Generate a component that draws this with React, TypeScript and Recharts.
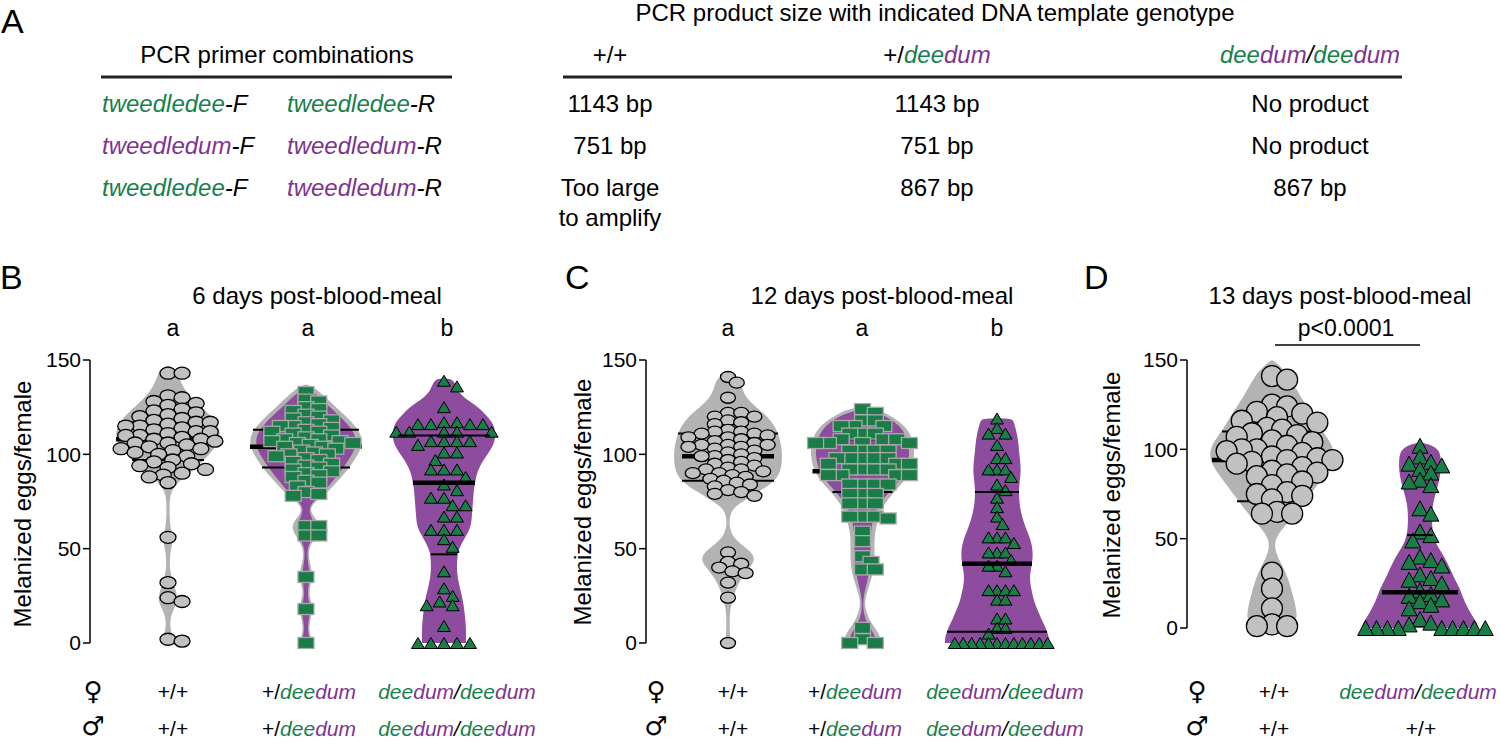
import React from 'react'
import { ScatterChart, Scatter, XAxis, YAxis } from 'recharts'

const FONT = '"Liberation Sans", Arial, Helvetica, sans-serif'
const GRAY = '#b3b3b3'
const VIOLET = '#8e4c9e'
const GREEN = '#1a7c46'
const T_GREEN = '#17814b'
const T_VIOLET = '#7f3390'

const yTicks = [0, 50, 100, 150]

// B: 6 days post-blood-meal, melanized eggs per female
const b6Wild = [143, 143, 131, 130, 128, 127, 126, 124, 123, 122, 121, 120, 119, 118, 117, 117, 116, 115, 115, 114, 113, 112, 112, 111, 110, 110, 109, 108, 108, 107, 106, 106, 105, 104, 103, 103, 102, 101, 100, 99, 97, 96, 95, 94, 93, 92, 90, 89, 88, 85, 56, 32, 24, 22, 2, 1]
const b6Het = [133, 129, 128, 125, 124, 123, 121, 120, 119, 118, 117, 116, 115, 115, 114, 113, 112, 112, 111, 110, 109, 108, 108, 107, 107, 106, 106, 105, 104, 104, 103, 102, 101, 100, 100, 99, 98, 97, 96, 95, 94, 93, 92, 91, 90, 89, 88, 86, 85, 83, 80, 79, 78, 62, 62, 57, 57, 35, 18, 0]
const b6Hom = [139, 136, 125, 117, 117, 116, 116, 116, 116, 112, 112, 112, 112, 112, 107, 107, 107, 107, 105, 101, 101, 97, 92, 92, 92, 88, 84, 81, 77, 77, 73, 73, 67, 67, 60, 60, 60, 55, 51, 38, 29, 25, 22, 20, 20, 9, 0, 0, 0, 0, 0]
// violin outlines: [value, half width]
const b6WildViolin = [[0, 4], [3, 5], [6, 3], [10, 2], [15, 3], [20, 8], [24, 10], [29, 7], [34, 4], [40, 1.5], [47, 2], [52, 4], [56, 5], [60, 3], [66, 1.5], [75, 1.5], [80, 3], [84, 8], [88, 16], [93, 28], [98, 38], [104, 48], [110, 53], [116, 50], [122, 40], [128, 27], [134, 17], [139, 12], [143, 10], [146, 5], [147, 0]]
const b6HetViolin = [[0, 7], [4, 4], [9, 3], [14, 5], [18, 7], [22, 5], [28, 2.5], [34, 7], [38, 6], [44, 3], [50, 2.5], [55, 8], [60, 14], [64, 13], [68, 6], [72, 4], [76, 12], [80, 22], [86, 32], [92, 42], [98, 50], [104, 56], [110, 56], [116, 48], [122, 36], [128, 24], [133, 14], [136, 6], [137, 0]]
const b6HetInner = [[0, 5], [5, 2], [10, 2], [16, 4], [20, 4], [26, 1], [34, 4], [40, 3], [46, 1], [52, 2], [58, 9], [63, 9], [68, 4], [72, 3], [76, 9], [80, 18], [86, 27], [92, 36], [98, 44], [104, 50], [110, 50], [116, 42], [122, 30], [128, 18], [133, 8], [135, 0]]
const b6HomViolin = [[0, 22], [4, 22], [9, 22], [14, 21], [19, 20], [25, 18], [31, 15], [37, 13], [43, 13], [49, 14], [55, 20], [61, 27], [68, 28], [75, 29], [82, 30], [88, 32], [93, 35], [99, 42], [105, 50], [111, 52], [117, 49], [122, 40], [126, 32], [130, 20], [134, 13], [140, 10], [140, 0]]
// quartile, median, quartile and their half widths
const b6WildStats = [117, 108, 97]
const b6WildStatW = [49, 52, 36]
const b6HetStats = [113, 104, 93]
const b6HetStatW = [53, 56, 44]
const b6HomStats = [110, 85, 47]
const b6HomStatW = [46, 31, 13]

// C: 12 days post-blood-meal
const c12Wild = [141, 138, 130, 122, 122, 120, 120, 118, 117, 116, 113, 112, 112, 111, 111, 110, 109, 109, 108, 107, 106, 105, 105, 105, 104, 104, 103, 102, 101, 100, 99, 99, 98, 97, 96, 95, 94, 93, 92, 92, 91, 90, 90, 89, 88, 87, 86, 85, 84, 83, 81, 80, 79, 78, 48, 43, 42, 40, 38, 37, 32, 24, 0]
const c12Het = [124, 122, 118, 118, 115, 115, 115, 111, 111, 111, 108, 108, 108, 106, 106, 106, 106, 102, 102, 102, 102, 98, 98, 98, 98, 98, 95, 95, 95, 92, 92, 92, 92, 89, 89, 89, 89, 84, 84, 84, 84, 79, 79, 79, 74, 74, 74, 67, 67, 67, 66, 59, 54, 46, 43, 39, 39, 8, 2, 0, 0]
const c12Hom = [119, 114, 111, 111, 105, 98, 98, 92, 92, 92, 88, 84, 81, 77, 72, 67, 63, 56, 56, 56, 53, 48, 48, 48, 44, 41, 41, 38, 28, 28, 28, 28, 23, 23, 13, 13, 8, 8, 5, 0, 0, 0, 0, 0, 0, 0, 0, 0, 0, 0, 0]
const c12WildViolin = [[0, 3], [4, 2], [10, 1.5], [18, 2], [24, 5], [30, 9], [35, 14], [40, 22], [44, 27], [48, 24], [52, 14], [56, 5], [62, 1], [68, 2], [72, 6], [76, 18], [80, 30], [85, 45], [90, 52], [96, 54], [102, 54], [108, 52], [114, 48], [120, 40], [125, 28], [130, 18], [135, 14], [139, 12], [142, 7], [143, 0]]
const c12HetViolin = [[0, 18], [3, 18], [7, 14], [11, 8], [16, 4], [21, 2], [26, 4], [31, 7], [36, 10], [42, 12], [50, 12], [58, 12], [64, 15], [70, 18], [76, 25], [82, 35], [88, 45], [94, 50], [100, 52], [106, 51], [112, 47], [117, 38], [121, 26], [124, 15], [125, 0]]
const c12HetInner = [[0, 13], [3, 13], [7, 9], [11, 4], [16, 1], [21, 0.5], [26, 1.5], [31, 4], [36, 6], [42, 8], [50, 8], [58, 8], [64, 10], [70, 13], [76, 20], [82, 30], [88, 40], [94, 45], [100, 47], [106, 46], [112, 42], [117, 33], [121, 20], [123, 8], [124, 0]]
const c12HomViolin = [[0, 52], [3, 52], [6, 50], [9, 48], [13, 44], [17, 41], [22, 37], [27, 35], [32, 33], [37, 33], [42, 35], [47, 36], [52, 35], [57, 32], [62, 28], [67, 25], [72, 23], [77, 22], [82, 22], [87, 23], [92, 24], [97, 23], [102, 22], [108, 21], [113, 19], [117, 17], [119, 15], [119, 0]]
const c12WildStats = [111, 99, 86]
const c12WildStatW = [50, 46, 46]
const c12HetStats = [108, 91, 80]
const c12HetStatW = [50, 50, 30]
const c12HomStats = [80, 42, 6]
const c12HomStatW = [22, 35, 50]

// D: 13 days post-blood-meal
const d13Wild = [141, 139, 125, 124, 121, 120, 118, 116, 115, 112, 111, 109, 108, 107, 105, 104, 102, 100, 100, 99, 98, 96, 95, 94, 94, 93, 92, 90, 88, 87, 86, 85, 82, 80, 76, 75, 74, 72, 65, 64, 64, 31, 22, 11, 2, 1, 1]
const d13Hom = [102, 96, 93, 92, 91, 89, 87, 83, 82, 80, 67, 64, 54, 52, 49, 40, 38, 37, 35, 30, 28, 27, 25, 21, 19, 18, 16, 15, 13, 11, 5, 3, 2, 0, 0, 0, 0, 0, 0, 0, 0, 0]
const d13WildViolin = [[0, 20], [3, 24], [8, 25], [14, 23], [20, 20], [26, 17], [32, 13], [38, 7], [44, 3], [49, 3], [54, 8], [59, 16], [64, 24], [70, 32], [76, 40], [82, 48], [88, 56], [94, 62], [100, 62], [106, 56], [112, 48], [118, 42], [124, 35], [130, 28], [136, 22], [141, 17], [145, 11], [148, 5], [150, 0]]
const d13HomViolin = [[0, 58], [3, 57], [7, 52], [12, 47], [17, 43], [22, 40], [27, 35], [32, 31], [37, 27], [42, 22], [47, 16], [52, 13], [58, 12], [64, 12], [70, 13], [76, 16], [82, 19], [88, 21], [94, 21], [98, 20], [101, 16], [103, 8], [104, 0]]
const d13WildStats = [110, 94, 71]
const d13WildStatW = [50, 60, 35]
const d13HomStats = [52, 20]
const d13HomStatW = [13, 38]

type Marker = { kind: 'circle' | 'square' | 'triangle'; w: number; h: number; kx: number; ky: number }
type Group = {
  center: number
  values: number[]
  marker: Marker
  violins: { profile: number[][]; fill: string }[]
  stats: number[]
  statW: number[]
  medianIndex: number
  linesOnTop?: boolean
}

const none = () => <g />

function markerShape(m: Marker) {
  return (p: any) => {
    const { cx, cy } = p
    if (m.kind === 'circle')
      return <ellipse cx={cx} cy={cy} rx={m.w / 2} ry={m.h / 2} fill="#c1c1c1" stroke="#000" strokeWidth={1.3} />
    if (m.kind === 'square')
      return <rect x={cx - m.w / 2} y={cy - m.h / 2} width={m.w} height={m.h} fill={GREEN} stroke="#a9a9a9" strokeWidth={1.3} />
    return (
      <polygon
        points={`${cx},${cy - m.h / 2} ${cx + m.w / 2},${cy + m.h / 2} ${cx - m.w / 2},${cy + m.h / 2}`}
        fill={GREEN}
        stroke="#000"
        strokeWidth={1}
      />
    )
  }
}

// simple beeswarm layout in pixel space
function swarm(values: number[], center: number, ux: number, uy: number, m: Marker) {
  const placed: { dx: number; py: number }[] = []
  const sx = m.w * m.kx
  const sy = m.h * m.ky
  return values.map((v) => {
    const py = v * uy
    let dx = 0
    for (let i = 0; i < 600; i++) {
      const k = Math.ceil(i / 2) * (i % 2 ? 1 : -1)
      const cand = (k * sx) / 3
      const ok = placed.every((p) => ((p.dx - cand) / sx) ** 2 + ((p.py - py) / sy) ** 2 >= 0.999)
      if (ok) {
        dx = cand
        break
      }
    }
    placed.push({ dx, py })
    return { x: center + dx / ux, y: v }
  })
}

function outline(profile: number[][], center: number, ux: number) {
  const right = profile.map(([v, w]) => ({ x: center + w / ux, y: v }))
  const left = [...profile].reverse().map(([v, w]) => ({ x: center - w / ux, y: v }))
  return [...right, ...left]
}

function Panel({ left, top, plotW, plotH, xDomain, groups, right = 10 }: any) {
  const ux = plotW / (xDomain[1] - xDomain[0])
  const uy = plotH / 150
  const series: React.ReactNode[] = []
  ;(groups as Group[]).forEach((g, gi) => {
    g.violins.forEach((v, vi) =>
      series.push(
        <Scatter
          key={`v${gi}-${vi}`}
          data={outline(v.profile, g.center, ux)}
          shape={none}
          line={{ fill: v.fill, stroke: 'none' }}
          lineType="joint"
          lineJointType="basis"
          isAnimationActive={false}
        />
      )
    )
    const lines = g.stats.map((s, si) => (
      <Scatter
        key={`l${gi}-${si}`}
        data={[
          { x: g.center - g.statW[si] / ux, y: s },
          { x: g.center + g.statW[si] / ux, y: s },
        ]}
        shape={none}
        line={{ stroke: '#000', strokeWidth: si === g.medianIndex ? 4.5 : 2, fill: 'none' }}
        lineType="joint"
        isAnimationActive={false}
      />
    ))
    const pts = (
      <Scatter
        key={`p${gi}`}
        data={swarm(g.values, g.center, ux, uy, g.marker)}
        shape={markerShape(g.marker)}
        isAnimationActive={false}
      />
    )
    if (g.linesOnTop) series.push(pts, ...lines)
    else series.push(...lines, pts)
  })
  return (
    <div style={{ position: 'absolute', left, top }}>
      <ScatterChart width={60 + plotW + right} height={plotH + 40} margin={{ top: 20, right, bottom: 20, left: 0 }}>
        <XAxis type="number" dataKey="x" domain={xDomain} hide />
        <YAxis
          type="number"
          dataKey="y"
          domain={[0, 150]}
          ticks={yTicks}
          interval={0}
          width={60}
          tickSize={7}
          axisLine={{ stroke: '#000', strokeWidth: 1.5 }}
          tickLine={{ stroke: '#000', strokeWidth: 1.5 }}
          tick={{ fill: '#000', fontSize: 21, fontFamily: FONT }}
        />
        {series}
      </ScatterChart>
    </div>
  )
}

const mB = {
  circle: { kind: 'circle', w: 16, h: 12, kx: 0.88, ky: 0.65 } as Marker,
  square: { kind: 'square', w: 16, h: 11, kx: 0.8, ky: 0.65 } as Marker,
  triangle: { kind: 'triangle', w: 13, h: 11, kx: 1, ky: 0.75 } as Marker,
}
const mC = {
  circle: { kind: 'circle', w: 15, h: 11, kx: 0.88, ky: 0.65 } as Marker,
  square: { kind: 'square', w: 16, h: 11, kx: 0.8, ky: 0.65 } as Marker,
  triangle: { kind: 'triangle', w: 13, h: 11, kx: 0.65, ky: 0.75 } as Marker,
}
const mD = {
  circle: { kind: 'circle', w: 21, h: 21, kx: 0.72, ky: 0.6 } as Marker,
  triangle: { kind: 'triangle', w: 16, h: 15, kx: 0.68, ky: 0.65 } as Marker,
}

const groupsB: Group[] = [
  { center: 1, values: b6Wild, marker: mB.circle, violins: [{ profile: b6WildViolin, fill: GRAY }], stats: b6WildStats, statW: b6WildStatW, medianIndex: 1 },
  { center: 2, values: b6Het, marker: mB.square, violins: [{ profile: b6HetViolin, fill: GRAY }, { profile: b6HetInner, fill: VIOLET }], stats: b6HetStats, statW: b6HetStatW, medianIndex: 1 },
  { center: 3, values: b6Hom, marker: mB.triangle, violins: [{ profile: b6HomViolin, fill: VIOLET }], stats: b6HomStats, statW: b6HomStatW, medianIndex: 1, linesOnTop: true },
]
const groupsC: Group[] = [
  { center: 1, values: c12Wild, marker: mC.circle, violins: [{ profile: c12WildViolin, fill: GRAY }], stats: c12WildStats, statW: c12WildStatW, medianIndex: 1 },
  { center: 2, values: c12Het, marker: mC.square, violins: [{ profile: c12HetViolin, fill: GRAY }, { profile: c12HetInner, fill: VIOLET }], stats: c12HetStats, statW: c12HetStatW, medianIndex: 1 },
  { center: 3, values: c12Hom, marker: mC.triangle, violins: [{ profile: c12HomViolin, fill: VIOLET }], stats: c12HomStats, statW: c12HomStatW, medianIndex: 1, linesOnTop: true },
]
const groupsD: Group[] = [
  { center: 1, values: d13Wild, marker: mD.circle, violins: [{ profile: d13WildViolin, fill: GRAY }], stats: d13WildStats, statW: d13WildStatW, medianIndex: 1 },
  { center: 2, values: d13Hom, marker: mD.triangle, violins: [{ profile: d13HomViolin, fill: VIOLET }], stats: d13HomStats, statW: d13HomStatW, medianIndex: 1, linesOnTop: true },
]

const Dd = () => (
  <>
    <tspan fill={T_GREEN}>dee</tspan>
    <tspan fill={T_VIOLET}>dum</tspan>
  </>
)
const HomLabel = () => (
  <>
    <Dd />
    <tspan fill="#000">/</tspan>
    <Dd />
  </>
)
const HetLabel = () => (
  <>
    <tspan fontStyle="normal" fill="#000">+/</tspan>
    <Dd />
  </>
)

function Sexes({ x }: { x: number }) {
  return (
    <>
      <text x={x} y={700} fontSize={26} textAnchor="middle" fontFamily="DejaVu Sans">♀</text>
      <text x={x} y={735} fontSize={26} textAnchor="middle" fontFamily="DejaVu Sans">♂</text>
    </>
  )
}

function Overlay() {
  const rows = [112, 154, 196]
  const cols = [610, 937, 1310]
  return (
    <svg width={1500} height={744} style={{ position: 'absolute', left: 0, top: 0, pointerEvents: 'none' }} fontFamily={FONT} fill="#000">
      {/* panel A */}
      <text x={1} y={33} fontSize={34}>A</text>
      <text x={277} y={63} fontSize={24} textAnchor="middle">PCR primer combinations</text>
      <line x1={101} x2={452} y1={77} y2={77} stroke="#222" strokeWidth={3} />
      <text x={935} y={21} fontSize={24} textAnchor="middle">PCR product size with indicated DNA template genotype</text>
      <line x1={563} x2={1402} y1={77} y2={77} stroke="#222" strokeWidth={3} />
      <text x={cols[0]} y={63} fontSize={24} textAnchor="middle">+/+</text>
      <text x={cols[1]} y={63} fontSize={24} textAnchor="middle" fontStyle="italic"><HetLabel /></text>
      <text x={cols[2]} y={63} fontSize={24} textAnchor="middle" fontStyle="italic"><HomLabel /></text>

      <g fontSize={24} fontStyle="italic">
        <text x={102} y={rows[0]}><tspan fill={T_GREEN}>tweedledee</tspan>-F</text>
        <text x={287} y={rows[0]}><tspan fill={T_GREEN}>tweedledee</tspan>-R</text>
        <text x={102} y={rows[1]}><tspan fill={T_VIOLET}>tweedledum</tspan>-F</text>
        <text x={287} y={rows[1]}><tspan fill={T_VIOLET}>tweedledum</tspan>-R</text>
        <text x={102} y={rows[2]}><tspan fill={T_GREEN}>tweedledee</tspan>-F</text>
        <text x={287} y={rows[2]}><tspan fill={T_VIOLET}>tweedledum</tspan>-R</text>
      </g>
      <g fontSize={24} textAnchor="middle">
        <text x={cols[0]} y={rows[0]}>1143 bp</text>
        <text x={cols[1]} y={rows[0]}>1143 bp</text>
        <text x={cols[2]} y={rows[0]}>No product</text>
        <text x={cols[0]} y={rows[1]}>751 bp</text>
        <text x={cols[1]} y={rows[1]}>751 bp</text>
        <text x={cols[2]} y={rows[1]}>No product</text>
        <text x={cols[0]} y={rows[2]}>Too large</text>
        <text x={cols[0]} y={rows[2] + 30}>to amplify</text>
        <text x={cols[1]} y={rows[2]}>867 bp</text>
        <text x={cols[2]} y={rows[2]}>867 bp</text>
      </g>

      {/* panel letters and titles */}
      <text x={0} y={289} fontSize={34}>B</text>
      <text x={565} y={289} fontSize={34}>C</text>
      <text x={1084} y={289} fontSize={34}>D</text>
      <g fontSize={24} textAnchor="middle">
        <text x={317} y={304}>6 days post-blood-meal</text>
        <text x={882} y={304}>12 days post-blood-meal</text>
        <text x={1340} y={304}>13 days post-blood-meal</text>
      </g>
      <g fontSize={23} textAnchor="middle">
        <text x={173} y={336}>a</text>
        <text x={308} y={336}>a</text>
        <text x={447} y={336}>b</text>
        <text x={728} y={336}>a</text>
        <text x={862} y={336}>a</text>
        <text x={997} y={336}>b</text>
        <text x={1346} y={336}>p&lt;0.0001</text>
      </g>
      <line x1={1275} x2={1420} y1={345} y2={345} stroke="#000" strokeWidth={1.5} />

      {/* y axis titles */}
      <g fontSize={24} textAnchor="middle">
        <text transform="translate(31,504) rotate(-90)">Melanized eggs/female</text>
        <text transform="translate(591,502) rotate(-90)">Melanized eggs/female</text>
        <text transform="translate(1120,495) rotate(-90)">Melanized eggs/female</text>
      </g>

      {/* genotype rows */}
      <Sexes x={93} />
      <Sexes x={656} />
      <Sexes x={1197} />
      <g fontSize={21} textAnchor="middle">
        <text x={173} y={699}>+/+</text>
        <text x={173} y={736}>+/+</text>
        <text x={309} y={699} fontStyle="italic"><HetLabel /></text>
        <text x={309} y={736} fontStyle="italic"><HetLabel /></text>
        <text x={457} y={699} fontStyle="italic"><HomLabel /></text>
        <text x={457} y={736} fontStyle="italic"><HomLabel /></text>
        <text x={733} y={699}>+/+</text>
        <text x={733} y={736}>+/+</text>
        <text x={855} y={699} fontStyle="italic"><HetLabel /></text>
        <text x={855} y={736} fontStyle="italic"><HetLabel /></text>
        <text x={1005} y={699} fontStyle="italic"><HomLabel /></text>
        <text x={1005} y={736} fontStyle="italic"><HomLabel /></text>
        <text x={1274} y={699}>+/+</text>
        <text x={1274} y={736}>+/+</text>
        <text x={1418} y={699} fontStyle="italic"><HomLabel /></text>
        <text x={1421} y={736}>+/+</text>
      </g>
    </svg>
  )
}

export default function App() {
  return (
    <div style={{ position: 'absolute', left: 0, top: 0, width: 1500, height: 744, overflow: 'hidden', background: '#fff', fontFamily: FONT }}>
      <Panel left={30} top={340} plotW={430} plotH={283} xDomain={[0.4348, 3.551]} groups={groupsB} />
      <Panel left={586} top={340} plotW={414} plotH={283} xDomain={[0.3903, 3.4684]} groups={groupsC} />
      <Panel left={1127} top={340} plotW={313} plotH={268} xDomain={[0.4257, 2.5406]} groups={groupsD} right={0} />
      <Overlay />
    </div>
  )
}
